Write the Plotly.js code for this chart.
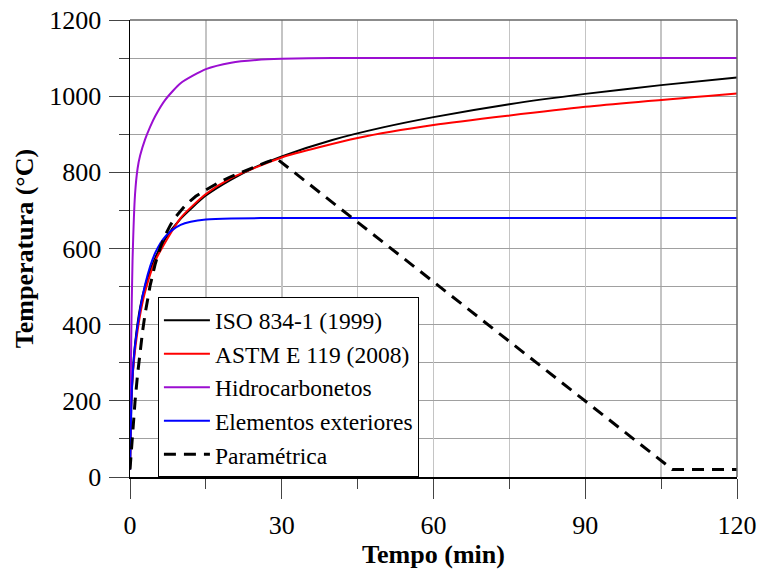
<!DOCTYPE html>
<html>
<head>
<meta charset="utf-8">
<script src="https://cdn.plot.ly/plotly-3.0.1.min.js"></script>
<style>html,body{margin:0;padding:0;background:#fff;}#chart{width:761px;height:571px;}</style>
</head>
<body>
<div id="chart"></div>
<script>
// ISO 834-1 (1999)
const isoT = [0, 0.25, 0.5, 1, 2, 3, 5, 7, 10, 15, 20, 25, 30, 40, 50, 60, 75, 90, 105, 120];
const isoV = [20, 185, 261, 349, 445, 502, 576, 626, 678, 739, 781, 815, 842, 885, 918, 945, 979, 1006, 1029, 1049];
// ASTM E 119 (2008)
const astmT = [0, 0.25, 0.5, 1, 2, 3, 5, 10, 15, 20, 30, 45, 60, 90, 120];
const astmV = [20, 200, 262, 333, 426, 487, 568, 680, 743, 785, 839, 890, 924, 972, 1007];
// Hidrocarbonetos
const hcT = [0, 0.25, 0.5, 1, 1.5, 2, 3, 4, 5, 7, 10, 15, 20, 25, 30, 40, 60, 120];
const hcV = [20, 373, 568, 743, 810, 844, 887, 920, 948, 991, 1034, 1071, 1088, 1095, 1098, 1100, 1100, 1100];
// Elementos exteriores
const extT = [0, 0.25, 0.5, 1, 2, 3, 4, 5, 6, 7, 8, 10, 12, 15, 20, 30, 120];
const extV = [20, 182, 263, 346, 441, 506, 554, 589, 614, 632, 645, 662, 670, 676, 679, 680, 680];
// Paramétrica
const parT = [0, 0.5, 1, 1.5, 2, 2.5, 3, 4, 5, 6, 7, 8, 9, 10, 11, 12, 13, 15, 17.5, 20, 22.5, 25, 27, 29, 107.2, 120];
const parV = [20, 116, 199, 270, 331, 384, 430, 504, 560, 603, 636, 662, 683, 700, 714, 726, 737, 754, 773, 789, 803, 817, 827, 836, 20, 20];

const names = ['ISO 834-1 (1999)', 'ASTM E 119 (2008)', 'Hidrocarbonetos', 'Elementos exteriores', 'Paramétrica'];
const colors = ['#000000', '#ff0000', '#9b0ed1', '#0000ff', '#000000'];

const traces = [
  {x: isoT, y: isoV, name: names[0], line: {color: colors[0], width: 2, shape: 'spline', smoothing: 0.6}},
  {x: astmT, y: astmV, name: names[1], line: {color: colors[1], width: 2, shape: 'spline', smoothing: 0.6}},
  {x: hcT, y: hcV, name: names[2], line: {color: colors[2], width: 2, shape: 'spline', smoothing: 0.6}},
  {x: extT, y: extV, name: names[3], line: {color: colors[3], width: 2, shape: 'spline', smoothing: 0.6}},
  {x: parT, y: parV, name: names[4], line: {color: colors[4], width: 3, dash: '12px,8px'}}
].map(t => Object.assign({type: 'scatter', mode: 'lines'}, t));

const FAM = 'Liberation Serif';
const f = (size) => ({family: FAM, size: size, color: '#000'});

const layout = {
  width: 761, height: 571,
  margin: {l: 130, r: 24, t: 20, b: 94},
  paper_bgcolor: '#fff', plot_bgcolor: '#fff',
  font: f(26),
  showlegend: true,
  legend: {
    x: 0.046, y: 0.393, xanchor: 'left', yanchor: 'top',
    bgcolor: '#fff', bordercolor: '#000', borderwidth: 1,
    font: f(23.5), itemwidth: 46,
    tracegroupgap: 0
  },
  xaxis: {
    range: [0, 120], tick0: 0, dtick: 30,
    ticks: 'outside', ticklen: 20, tickwidth: 1, tickcolor: '#444',
    showgrid: true, gridcolor: '#c4c4c4', gridwidth: 1.5,
    minor: {dtick: 15, ticks: 'outside', ticklen: 10, tickwidth: 1, tickcolor: '#444', showgrid: true, gridcolor: '#c4c4c4', gridwidth: 1.5},
    showline: true, linecolor: '#000', linewidth: 1.5, zeroline: false,
    tickfont: f(26), ticklabelstandoff: 4,
    title: {text: '<b>Tempo (min)</b>', font: f(26), standoff: 6}
  },
  yaxis: {
    range: [0, 1200], tick0: 0, dtick: 200,
    ticks: 'outside', ticklen: 20, tickwidth: 1, tickcolor: '#444',
    showgrid: true, gridcolor: '#a0a0a0', gridwidth: 1,
    minor: {dtick: 100, ticks: 'outside', ticklen: 10, tickwidth: 1, tickcolor: '#444', showgrid: true, gridcolor: '#a0a0a0', gridwidth: 1},
    showline: true, linecolor: '#000', linewidth: 1.5, zeroline: false,
    tickfont: f(26), ticklabelstandoff: 2,
    title: {text: '<b>Temperatura (°C)</b>', font: f(26), standoff: 8}
  },
  shapes: [
    {type: 'line', xref: 'paper', yref: 'paper', x0: 0, x1: 1, y0: 1, y1: 1, line: {color: '#666', width: 1.5}, layer: 'above'},
    {type: 'line', xref: 'paper', yref: 'paper', x0: 1, x1: 1, y0: 0, y1: 1, line: {color: '#666', width: 1.5}, layer: 'above'}
  ]
};

Plotly.newPlot('chart', traces, layout, {displayModeBar: false, staticPlot: true});
</script>
</body>
</html>
